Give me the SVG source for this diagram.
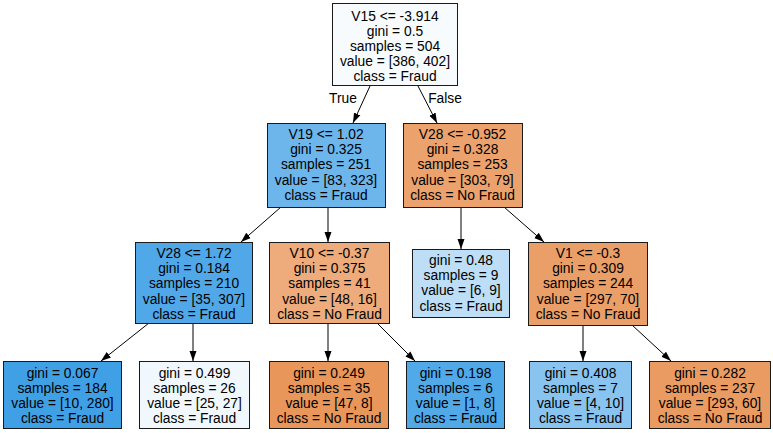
<svg xmlns="http://www.w3.org/2000/svg" width="773" height="433" viewBox="0 0 773 433">
  <style>
    .box { stroke: #1a1a1a; stroke-width: 1; }
    .lbl { font-family: "Liberation Sans", Arial, Helvetica, sans-serif; font-size: 13.8px; fill: #000; text-anchor: middle; }
    .edge { stroke: #000; stroke-width: 1; fill: none; marker-end: url(#arrow); }
  </style>
  <defs>
    <marker id="arrow" markerWidth="10" markerHeight="8" refX="10" refY="4" orient="auto" markerUnits="userSpaceOnUse">
      <path d="M0,0.5 L10,4 L0,7.5 z" fill="#000"/>
    </marker>
  </defs>
  <rect width="773" height="433" fill="#fff"/>

  <g id="connectors">
    <line class="edge" x1="370" y1="86" x2="353" y2="123"/>
    <line class="edge" x1="418" y1="86" x2="437" y2="123"/>
    <line class="edge" x1="281" y1="207" x2="241" y2="242"/>
    <line class="edge" x1="328" y1="207" x2="328" y2="242"/>
    <line class="edge" x1="461" y1="207" x2="461" y2="249"/>
    <line class="edge" x1="504" y1="207" x2="544" y2="242"/>
    <line class="edge" x1="149" y1="323" x2="101" y2="361"/>
    <line class="edge" x1="193" y1="323" x2="193" y2="361"/>
    <line class="edge" x1="328" y1="323" x2="328" y2="361"/>
    <line class="edge" x1="377" y1="323" x2="415" y2="361"/>
    <line class="edge" x1="583" y1="325" x2="583" y2="361"/>
    <line class="edge" x1="632" y1="325" x2="671" y2="361"/>
    <text class="lbl" x="343" y="103">True</text>
    <text class="lbl" x="445" y="103">False</text>
  </g>

  <g id="n0">
    <rect class="box" x="332.5" y="3.5" width="125" height="82" fill="#f7fbfe"/>
    <text class="lbl" x="395" y="20.5"><tspan x="395">V15 &lt;= -3.914</tspan><tspan x="395" dy="15.1">gini = 0.5</tspan><tspan x="395" dy="15.1">samples = 504</tspan><tspan x="395" dy="15.1">value = [386, 402]</tspan><tspan x="395" dy="15.1">class = Fraud</tspan></text>
  </g>
  <g id="n1">
    <rect class="box" x="267.5" y="123.5" width="118" height="84" fill="#6cb6ec"/>
    <text class="lbl" x="326" y="139"><tspan x="326">V19 &lt;= 1.02</tspan><tspan x="326" dy="15.2">gini = 0.325</tspan><tspan x="326" dy="15.2">samples = 251</tspan><tspan x="326" dy="15.2">value = [83, 323]</tspan><tspan x="326" dy="15.2">class = Fraud</tspan></text>
  </g>
  <g id="n2">
    <rect class="box" x="403.5" y="123.5" width="119" height="84" fill="#eca26d"/>
    <text class="lbl" x="462.5" y="139"><tspan x="462.5">V28 &lt;= -0.952</tspan><tspan x="462.5" dy="15.2">gini = 0.328</tspan><tspan x="462.5" dy="15.2">samples = 253</tspan><tspan x="462.5" dy="15.2">value = [303, 79]</tspan><tspan x="462.5" dy="15.2">class = No Fraud</tspan></text>
  </g>
  <g id="n3">
    <rect class="box" x="135.5" y="242.5" width="117" height="81" fill="#50a8e8"/>
    <text class="lbl" x="194" y="258"><tspan x="194">V28 &lt;= 1.72</tspan><tspan x="194" dy="15.2">gini = 0.184</tspan><tspan x="194" dy="15.2">samples = 210</tspan><tspan x="194" dy="15.2">value = [35, 307]</tspan><tspan x="194" dy="15.2">class = Fraud</tspan></text>
  </g>
  <g id="n4">
    <rect class="box" x="269.5" y="242.5" width="120" height="81" fill="#eeab7b"/>
    <text class="lbl" x="329.5" y="258"><tspan x="329.5">V10 &lt;= -0.37</tspan><tspan x="329.5" dy="15.2">gini = 0.375</tspan><tspan x="329.5" dy="15.2">samples = 41</tspan><tspan x="329.5" dy="15.2">value = [48, 16]</tspan><tspan x="329.5" dy="15.2">class = No Fraud</tspan></text>
  </g>
  <g id="n5">
    <rect class="box" x="412.5" y="249.5" width="97" height="68" fill="#bddef6"/>
    <text class="lbl" x="461" y="265"><tspan x="461">gini = 0.48</tspan><tspan x="461" dy="15.2">samples = 9</tspan><tspan x="461" dy="15.2">value = [6, 9]</tspan><tspan x="461" dy="15.2">class = Fraud</tspan></text>
  </g>
  <g id="n6">
    <rect class="box" x="528.5" y="242.5" width="119" height="83" fill="#eb9f68"/>
    <text class="lbl" x="588" y="258"><tspan x="588">V1 &lt;= -0.3</tspan><tspan x="588" dy="15.2">gini = 0.309</tspan><tspan x="588" dy="15.2">samples = 244</tspan><tspan x="588" dy="15.2">value = [297, 70]</tspan><tspan x="588" dy="15.2">class = No Fraud</tspan></text>
  </g>
  <g id="n7">
    <rect class="box" x="3.5" y="361.5" width="118" height="67" fill="#40a0e6"/>
    <text class="lbl" x="62.5" y="377.5"><tspan x="62.5">gini = 0.067</tspan><tspan x="62.5" dy="15.2">samples = 184</tspan><tspan x="62.5" dy="15.2">value = [10, 280]</tspan><tspan x="62.5" dy="15.2">class = Fraud</tspan></text>
  </g>
  <g id="n8">
    <rect class="box" x="139.5" y="361.5" width="110" height="67" fill="#f0f8fd"/>
    <text class="lbl" x="194.5" y="377.5"><tspan x="194.5">gini = 0.499</tspan><tspan x="194.5" dy="15.2">samples = 26</tspan><tspan x="194.5" dy="15.2">value = [25, 27]</tspan><tspan x="194.5" dy="15.2">class = Fraud</tspan></text>
  </g>
  <g id="n9">
    <rect class="box" x="269.5" y="361.5" width="119" height="67" fill="#e9965b"/>
    <text class="lbl" x="329" y="377.5"><tspan x="329">gini = 0.249</tspan><tspan x="329" dy="15.2">samples = 35</tspan><tspan x="329" dy="15.2">value = [47, 8]</tspan><tspan x="329" dy="15.2">class = No Fraud</tspan></text>
  </g>
  <g id="n10">
    <rect class="box" x="406.5" y="361.5" width="98" height="67" fill="#52a9e8"/>
    <text class="lbl" x="455.5" y="377.5"><tspan x="455.5">gini = 0.198</tspan><tspan x="455.5" dy="15.2">samples = 6</tspan><tspan x="455.5" dy="15.2">value = [1, 8]</tspan><tspan x="455.5" dy="15.2">class = Fraud</tspan></text>
  </g>
  <g id="n11">
    <rect class="box" x="529.5" y="361.5" width="102" height="67" fill="#88c4ef"/>
    <text class="lbl" x="580.5" y="377.5"><tspan x="580.5">gini = 0.408</tspan><tspan x="580.5" dy="15.2">samples = 7</tspan><tspan x="580.5" dy="15.2">value = [4, 10]</tspan><tspan x="580.5" dy="15.2">class = Fraud</tspan></text>
  </g>
  <g id="n12">
    <rect class="box" x="649.5" y="361.5" width="121" height="67" fill="#ea9b62"/>
    <text class="lbl" x="710" y="377.5"><tspan x="710">gini = 0.282</tspan><tspan x="710" dy="15.2">samples = 237</tspan><tspan x="710" dy="15.2">value = [293, 60]</tspan><tspan x="710" dy="15.2">class = No Fraud</tspan></text>
  </g>
</svg>
